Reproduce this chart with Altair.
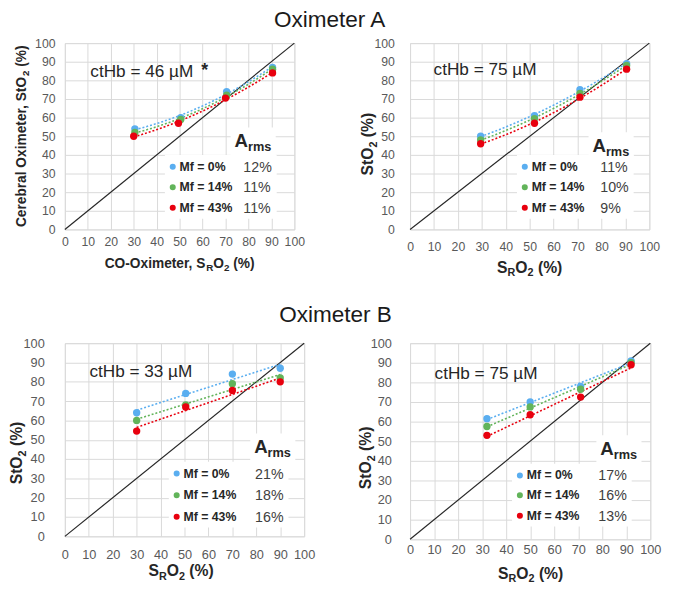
import altair as alt
import pandas as pd

FONT = "Liberation Sans"
SERIES = ["Mf = 0%", "Mf = 14%", "Mf = 43%"]
COLORS = ["#5AAEF0", "#62B45A", "#E8000E"]

# ---- Oximeter A, ctHb = 46 uM ----
a46_x0 = [30.5, 50.5, 70.5, 90.5]
a46_y0 = [54, 60, 74, 87]
a46_x14 = [30.5, 50.5, 70.5, 90.5]
a46_y14 = [52, 59, 72, 86]
a46_x43 = [30, 49.5, 70, 90.5]
a46_y43 = [50, 57, 70.5, 84]
a46_arms = ["12%", "11%", "11%"]

# ---- Oximeter A, ctHb = 75 uM ----
a75_x0 = [29.5, 52, 71, 90.5]
a75_y0 = [50, 61, 75, 89]
a75_x14 = [29.5, 52, 71, 90.5]
a75_y14 = [48, 59.5, 73, 88]
a75_x43 = [29.5, 52, 71, 90.5]
a75_y43 = [46, 57, 71, 86]
a75_arms = ["11%", "10%", "9%"]

# ---- Oximeter B, ctHb = 33 uM ----
b33_x0 = [30, 50.5, 70, 90]
b33_y0 = [64, 74, 84, 87]
b33_x14 = [30, 50.5, 70, 90]
b33_y14 = [60, 68, 79, 82]
b33_x43 = [30, 50.5, 70, 90]
b33_y43 = [54.5, 67, 75.5, 80]
b33_arms = ["21%", "18%", "16%"]

# ---- Oximeter B, ctHb = 75 uM ----
b75_x0 = [32, 50, 71, 92]
b75_y0 = [61.5, 70, 78, 91]
b75_x14 = [32, 50, 71, 92]
b75_y14 = [57.5, 67.5, 76.5, 90]
b75_x43 = [32, 50, 71, 92]
b75_y43 = [53, 63.5, 72.5, 89]
b75_arms = ["17%", "16%", "13%"]

ticks = list(range(0, 101, 10))
identity = [0, 100]

# Arial / Liberation Sans Bold advance widths (1/1000 em) for composing sub-scripted titles
WB = {' ': 278, '%': 889, '(': 333, ')': 333, ',': 278, '-': 333, '2': 556, 'A': 722,
      'C': 722, 'O': 778, 'R': 722, 'S': 667, 'a': 556, 'b': 611, 'e': 556, 'i': 278,
      'l': 278, 'm': 889, 'r': 389, 't': 333, 'x': 556, 's': 556}


def wid(s, size):
    return sum(WB[c] for c in s) * size / 1000.0


def txt(s, x, y, size, bold=False, color="#262626", align="left", angle=0):
    return alt.Chart(pd.DataFrame({"t": [s]})).mark_text(
        align=align, baseline="alphabetic", font=FONT, fontSize=size,
        fontWeight="bold" if bold else "normal", color=color, angle=angle
    ).encode(text="t:N", x=alt.value(x), y=alt.value(y))


def split_lead(s, sz):
    stripped = s.lstrip(" ")
    return stripped, wid(s[:len(s) - len(stripped)], sz)


def rich_h(pieces, cx, base):
    total = sum(wid(s, sz) for s, sz, sh in pieces)
    x = cx - total / 2
    out = []
    for s, sz, sh in pieces:
        core, lead = split_lead(s, sz)
        out.append(txt(core, x + lead, base + sh, sz, bold=True))
        x += wid(s, sz)
    return out


def rich_v(pieces, bx, cy):
    total = sum(wid(s, sz) for s, sz, sh in pieces)
    y = cy + total / 2
    out = []
    for s, sz, sh in pieces:
        core, lead = split_lead(s, sz)
        out.append(txt(core, bx + sh, y - lead, sz, bold=True, angle=270))
        y -= wid(s, sz)
    return out


def box(x1, x2, y1, y2):
    return alt.Chart(pd.DataFrame({"a": [0]})).mark_rect(color="white").encode(
        x=alt.value(x1), x2=alt.value(x2), y=alt.value(y1), y2=alt.value(y2))


def dot(x, y, c):
    return alt.Chart(pd.DataFrame({"a": [0]})).mark_circle(size=38, color=c, opacity=1).encode(
        x=alt.value(x), y=alt.value(y))


def panel(xs, ys, arms, cthb, fit, c):
    rows = []
    for name, xv, yv in zip(SERIES, xs, ys):
        for a, b in zip(xv, yv):
            rows.append({"series": name, "sro2": a, "sto2": b})
    df = pd.DataFrame(rows)
    axis_common = dict(values=ticks, grid=True, gridColor="#D9D9D9", gridWidth=1, domain=False,
                       ticks=False, tickSize=0, labelFont=FONT, labelFontSize=c["lsz"],
                       labelColor="#595959", labelOverlap=False, labelFlush=False, title=None)
    xe = alt.X("sro2:Q", scale=alt.Scale(domain=[0, 100], nice=False, zero=False),
               axis=alt.Axis(labelPadding=c["xlp"], **axis_common))
    ye = alt.Y("sto2:Q", scale=alt.Scale(domain=[0, 100], nice=False, zero=False),
               axis=alt.Axis(labelPadding=c["ylp"], **axis_common))
    col = alt.Color("series:N", scale=alt.Scale(domain=SERIES, range=COLORS), legend=None)

    layers = []
    r = c["rows"]
    ax, ab = c["arms"]
    layers.append(box(c["dot"] - 8, c["val"] + 34, r[0] - 12, r[2] + 11))
    layers.append(box(ax - 4, ax + 42, ab - 20, r[0] - 11))

    ident = alt.Chart(pd.DataFrame({"sro2": identity, "sto2": identity})).mark_line(
        color="#262626", strokeWidth=1.2).encode(x=xe, y=ye)
    layers.append(ident)

    base = alt.Chart(df)
    if fit == "poly":
        reg = base.transform_regression("sro2", "sto2", groupby=["series"], method="poly", order=2)
    else:
        reg = base.transform_regression("sro2", "sto2", groupby=["series"], method="linear")
    layers.append(reg.mark_line(strokeDash=[2, 2], strokeWidth=1.6).encode(x=xe, y=ye, color=col))
    layers.append(base.mark_circle(size=56, opacity=1).encode(x=xe, y=ye, color=col))

    # annotation texts
    layers.append(txt("ctHb = " + cthb + " µM", c["ct"][0], c["ct"][1], 17.5))
    if c.get("star"):
        layers.append(txt("*", c["star"][0], c["star"][1], 18, bold=True))
    layers.append(txt("A", ax, ab, 19, bold=True))
    layers.append(txt("rms", ax + wid("A", 19), ab + 4, 13, bold=True))
    for i, (name, colr, val) in enumerate(zip(SERIES, COLORS, arms)):
        layers.append(dot(c["dot"], r[i], colr))
        layers.append(txt(name, c["lab"], r[i] + 4, 12.5, bold=True))
        layers.append(txt(val, c["val"], r[i] + 5, 14.5, color="#404040"))

    # axis titles
    layers += rich_h(c["xt"], c["xt_cx"], c["xt_base"])
    layers += rich_v(c["yt"], c["yt_bx"], c["yt_cy"])
    if c.get("title"):
        s, tx, ty = c["title"]
        layers.append(txt(s, tx, ty, 23, color="#1a1a1a", align="center"))
    return alt.layer(*layers).properties(width=c["w"], height=c["h"])


def xt_pieces(prefix, tsz, ssz, sh):
    return [(prefix + "S", tsz, 0), ("R", ssz, sh), ("O", tsz, 0), ("2", ssz, sh), (" (%)", tsz, 0)]


def yt_pieces(prefix, tsz, ssz, sh):
    return [(prefix + "StO", tsz, 0), ("2", ssz, sh), (" (%)", tsz, 0)]


cfg_tl = dict(w=234, h=190, lsz=12.5, ylp=10, xlp=6,
              xt=xt_pieces("CO-Oximeter, ", 14, 10, 3), xt_cx=117, xt_base=229,
              yt=yt_pieces("Cerebral Oximeter, ", 14, 10, 3), yt_bx=-39.5, yt_cy=95,
              ct=(26, 35), star=(139, 34), arms=(173, 106), dot=110, lab=117, val=182,
              rows=[126, 147, 168], title=("Oximeter A", 270, -16))
cfg_tr = dict(w=244, h=190, lsz=12.5, ylp=16, xlp=11,
              xt=xt_pieces("", 16, 11, 4), xt_cx=122, xt_base=234,
              yt=yt_pieces("", 16, 11, 4), yt_bx=-38, yt_cy=103,
              ct=(24, 33), arms=(186, 111), dot=117, lab=124, val=194,
              rows=[126, 147, 168])
cfg_bl = dict(w=244, h=197, lsz=13, ylp=21, xlp=13,
              xt=xt_pieces("", 16, 11, 4), xt_cx=118.5, xt_base=237,
              yt=yt_pieces("", 16, 11, 4), yt_bx=-44, yt_cy=112,
              ct=(25, 35), arms=(193, 112), dot=114, lab=121, val=194,
              rows=[133, 155, 177], title=("Oximeter B", 276, -22))
cfg_br = dict(w=245, h=200, lsz=13, ylp=19, xlp=4,
              xt=xt_pieces("", 16, 11, 4), xt_cx=123, xt_base=240,
              yt=yt_pieces("", 16, 11, 4), yt_bx=-40, yt_cy=117,
              ct=(25, 37), arms=(194, 114), dot=112, lab=119, val=192,
              rows=[135, 155, 176])

tl = panel([a46_x0, a46_x14, a46_x43], [a46_y0, a46_y14, a46_y43], a46_arms, "46", "poly", cfg_tl)
tr = panel([a75_x0, a75_x14, a75_x43], [a75_y0, a75_y14, a75_y43], a75_arms, "75", "poly", cfg_tr)
bl = panel([b33_x0, b33_x14, b33_x43], [b33_y0, b33_y14, b33_y43], b33_arms, "33", "linear", cfg_bl)
br = panel([b75_x0, b75_x14, b75_x43], [b75_y0, b75_y14, b75_y43], b75_arms, "75", "linear", cfg_br)

chart = alt.concat(tl, tr, bl, br, columns=2, spacing={"row": 116, "column": 108},
                   align="none", bounds="flush").properties(
    padding={"left": 0, "top": -5, "right": 4, "bottom": 4}
).configure_view(stroke=None).configure(background="white")

chart.save("out.html", embed_options={"renderer": "svg", "actions": False})
